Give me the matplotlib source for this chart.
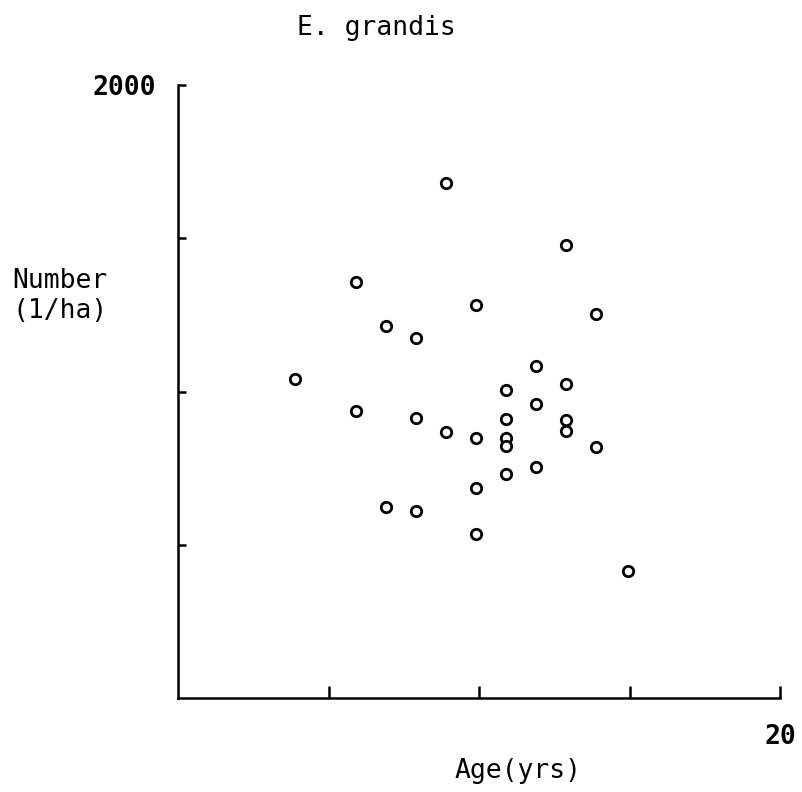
import matplotlib
matplotlib.use("Agg")
import matplotlib.pyplot as plt

# stand age (yrs) and stocking (trees per ha)
age = [3.9, 5.9, 5.9, 6.9, 6.9, 7.9, 7.9, 7.9, 8.9, 8.9,
       9.9, 9.9, 9.9, 9.9, 10.9, 10.9, 10.9, 10.9, 10.9,
       11.9, 11.9, 11.9, 12.9, 12.9, 12.9, 12.9, 13.9, 13.9, 14.95]
number = [1040, 1357, 936, 1214, 623, 1175, 914, 610, 1680, 868,
          1282, 848, 685, 535, 1005, 910, 848, 822, 731,
          1083, 959, 754, 1478, 1024, 907, 871, 1253, 819, 414]

xticks = [5, 10, 15, 20]
xticklabels = ["", "", "", "20"]
yticks = [500, 1000, 1500, 2000]
yticklabels = ["", "", "", "2000"]

plt.rcParams['font.family'] = ['DejaVu Sans Mono']

fig = plt.figure(figsize=(8.02, 7.92), dpi=100)
ax = fig.add_axes([178/802, 1 - 698/792, 602/802, 613/792])

ax.plot(age, number, 'o', mfc='white', mec='black', ms=7.5, mew=2.0,
        linestyle='none', clip_on=False)

ax.set_xlim(0, 20)
ax.set_ylim(0, 2000)

for side in ['top', 'right']:
    ax.spines[side].set_visible(False)
for side in ['left', 'bottom']:
    ax.spines[side].set_linewidth(1.8)

ax.set_xticks(xticks)
ax.set_xticklabels(xticklabels, fontsize=19, fontweight='bold')
ax.set_yticks(yticks)
ax.set_yticklabels(yticklabels, fontsize=19, fontweight='bold')
ax.tick_params(axis='x', direction='in', length=9, width=1.8, pad=19)
ax.tick_params(axis='y', direction='in', length=6, width=1.8, pad=16)

fig.text(376/802, 1 - 35/792, "E. grandis", ha='center', va='baseline', fontsize=19)
fig.text(12/802, 1 - 288/792, "Number", ha='left', va='baseline', fontsize=19)
fig.text(12/802, 1 - 318/792, "(1/ha)", ha='left', va='baseline', fontsize=19)
fig.text(518/802, 1 - 778/792, "Age(yrs)", ha='center', va='baseline', fontsize=19)

fig.savefig("out.png", dpi=100, facecolor='white')
